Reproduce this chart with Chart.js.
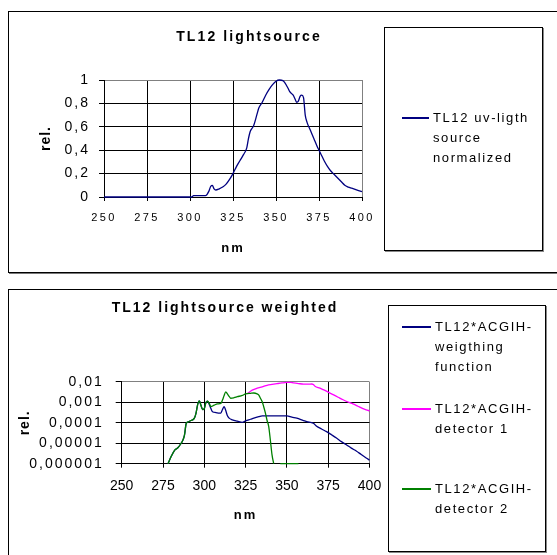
<!DOCTYPE html>
<html>
<head>
<meta charset="utf-8">
<title>TL12 lightsource</title>
<script src="https://cdn.jsdelivr.net/npm/chart.js@4/dist/chart.umd.min.js"></script>
<style>
  body { margin: 0; width: 557px; height: 555px; overflow: hidden; background: #fff;
         font-family: Arial, "Liberation Sans", sans-serif; position: relative; }
  .frame { position: absolute; border: 1px solid #000; box-shadow: 1px 1px 0 #777; }
  canvas { position: absolute; }
  .legend { position: absolute; border: 1px solid #000; box-shadow: 1px 1px 0 #888; background: #fff; }
  .entry { position: absolute; font-size: 13px; letter-spacing: 1.6px; line-height: 20px; color: #000; }
  .mark { position: absolute; display: block; }
</style>
</head>
<body>
<div class="frame" style="left:8px;top:11px;width:560px;height:260px"></div>
<div class="frame" style="left:8px;top:289px;width:560px;height:300px"></div>
<canvas id="srcChart" width="480" height="259" style="left:9px;top:12px"></canvas>
<canvas id="weightChart" width="432" height="265" style="left:9px;top:290px"></canvas>
<div class="legend" id="srcLegend" style="left:384px;top:27px;width:157px;height:222px"></div>
<div class="legend" id="weightLegend" style="left:388px;top:305px;width:156px;height:245px"></div>

<script>
// wavelength axis and value axes
const nmTicks = [250, 275, 300, 325, 350, 375, 400];
const relTicks = [0, 0.2, 0.4, 0.6, 0.8, 1];
const logTicks = [0.000001, 0.00001, 0.0001, 0.001, 0.01];

// TL12 uv source, normalized to its peak
const srcLabel = 'TL12 uv-ligth source normalized';
const srcNm  = [250, 300, 301, 302, 309, 311, 312, 313, 314, 315, 317, 319, 321, 323, 325, 327, 329, 331, 333,
                334, 335, 337, 339, 340, 342, 344, 346, 348, 350, 352, 354, 355, 357, 358, 360, 361, 362, 363,
                364, 365, 366, 367, 368, 370, 372, 374, 375, 376, 378, 380, 382, 384, 386, 388, 390, 392, 394,
                396, 398, 400];
const srcRel = [0, 0, 0, 0.011, 0.011, 0.05, 0.09, 0.1, 0.07, 0.06, 0.07, 0.085, 0.11, 0.15, 0.2, 0.26, 0.31, 0.36, 0.42,
                0.5, 0.56, 0.61, 0.71, 0.76, 0.81, 0.87, 0.92, 0.96, 0.99, 1.0, 0.995, 0.98, 0.93, 0.9, 0.87, 0.84, 0.81, 0.82,
                0.86, 0.87, 0.85, 0.7, 0.64, 0.57, 0.5, 0.43, 0.4, 0.37, 0.31, 0.26, 0.22, 0.19, 0.16, 0.13, 0.1, 0.085, 0.075,
                0.065, 0.055, 0.045];

// TL12 * ACGIH weighting function
const wfLabel = 'TL12*ACGIH-weigthing function';
const wfNm  = [278, 280, 282, 284, 286, 287, 288, 289, 290, 292, 294, 295, 296, 297, 298, 299, 300, 301, 302, 303,
               304, 305, 307, 309, 310, 311, 312, 313, 314, 315, 317, 320, 323, 325, 328, 330, 333, 335, 342, 350,
               353, 356, 360, 362, 366, 368, 371, 374, 377, 380, 383, 386, 389, 392, 395, 398, 400];
const wfVal = [1e-6, 2.3e-6, 4.5e-6, 6e-6, 1e-5, 1.4e-5, 2.5e-5, 9e-5, 1.1e-4, 1.3e-4, 1.7e-4, 3e-4, 8e-4, 1.2e-3,
               7e-4, 4.5e-4, 5e-4, 1e-3, 1.15e-3, 8e-4, 5e-4, 3.5e-4, 3.2e-4, 3e-4, 3e-4, 4.5e-4, 6.2e-4, 4e-4, 2.2e-4,
               1.7e-4, 1.4e-4, 1.2e-4, 1.05e-4, 1.25e-4, 1.5e-4, 1.7e-4, 2e-4, 2.2e-4, 2.2e-4, 2.2e-4, 1.9e-4, 1.7e-4,
               1.3e-4, 1.15e-4, 9.5e-5, 6.8e-5, 5e-5, 3.7e-5, 2.6e-5, 1.8e-5, 1.2e-5, 8.5e-6, 5.8e-6, 4.2e-6, 2.8e-6,
               1.9e-6, 1.5e-6];

// TL12 * ACGIH detector 1
const d1Label = 'TL12*ACGIH-detector 1';
const d1Nm  = [326, 329, 332, 335, 338, 341, 344, 347, 350, 352, 354, 357, 360, 363, 365, 366, 367, 370, 372, 375,
               378, 381, 384, 387, 390, 393, 396, 398, 400];
const d1Val = [2.7e-3, 4e-3, 5e-3, 5.8e-3, 6.9e-3, 7.6e-3, 8.3e-3, 9e-3, 9.5e-3, 9.5e-3, 9e-3, 8.4e-3, 7.9e-3, 7.9e-3,
               8e-3, 7.5e-3, 6.2e-3, 5e-3, 4.2e-3, 3.2e-3, 2.4e-3, 1.8e-3, 1.35e-3, 1.05e-3, 8.5e-4, 6.5e-4, 5e-4,
               4.3e-4, 3.9e-4];

// TL12 * ACGIH detector 2
const d2Label = 'TL12*ACGIH-detector 2';
const d2Nm  = [278, 280, 282, 284, 286, 287, 288, 289, 290, 292, 294, 295, 296, 297, 298, 299, 300, 301, 302, 303,
               304, 306, 308, 310, 311, 312, 313, 314, 315, 316, 318, 320, 323, 325, 328, 330, 332, 333, 334, 335,
               336, 337, 338, 339, 340, 341, 342, 344, 346, 357];
const d2Val = [1e-6, 2.3e-6, 4.5e-6, 6e-6, 1e-5, 1.4e-5, 2.5e-5, 9e-5, 1.1e-4, 1.3e-4, 1.7e-4, 3e-4, 8e-4, 1.2e-3,
               7e-4, 4.5e-4, 5e-4, 1e-3, 1.15e-3, 9e-4, 6.2e-4, 7.4e-4, 8.5e-4, 9e-4, 1.3e-3, 2.2e-3, 3.3e-3, 2.6e-3,
               2e-3, 1.6e-3, 1.7e-3, 1.9e-3, 2.2e-3, 2.6e-3, 2.8e-3, 2.9e-3, 2.6e-3, 2.3e-3, 1.6e-3, 1.1e-3, 6e-4, 3e-4,
               1.3e-4, 6.6e-5, 1.4e-5, 2.7e-6, 1e-6, null, 1e-6, 1e-6];

const NAVY = '#000080', MAGENTA = '#FF00FF', GREEN = '#008000';

const FONT = 'Arial, "Liberation Sans", sans-serif';
Chart.defaults.font.family = FONT;
Chart.defaults.color = '#000';

const pts = (xs, ys) => xs.map((x, i) => ({ x, y: ys[i] }));
const comma = v => String(v).replace('.', ',');

// canvas letterSpacing for selected scale labels / titles
function spacing(cfg) {
  const wrap = (obj, fn, sp) => {
    if (!obj || obj['_sp_' + fn]) return;
    const orig = obj[fn];
    obj[fn] = function (...a) {
      this.ctx.save();
      this.ctx.letterSpacing = sp;
      orig.apply(this, a);
      this.ctx.restore();
    };
    obj['_sp_' + fn] = true;
  };
  return {
    id: 'spacing',
    afterLayout(chart) {
      for (const id in cfg.ticks || {}) wrap(chart.scales[id], 'drawLabels', cfg.ticks[id]);
      for (const id in cfg.titles || {}) wrap(chart.scales[id], 'drawTitle', cfg.titles[id]);
      if (cfg.title) wrap(chart.titleBlock, 'draw', cfg.title);
    }
  };
}

const edgeGrid = edge => ({
  color: c => (c.tick && c.tick.value === edge ? '#808080' : '#000'),
  tickColor: '#000',
  lineWidth: 1
});

// empty right-hand axis: keeps room for the legend while the title stays centred on the canvas
const spacer = w => ({
  position: 'right', display: true,
  grid: { display: false }, border: { display: false }, ticks: { display: false },
  afterFit: s => { s.width = w; }
});

const line = (label, xs, ys, color, order) => ({
  label, data: pts(xs, ys), borderColor: color, backgroundColor: color,
  borderWidth: 1.3, pointRadius: 0, cubicInterpolationMode: 'monotone', spanGaps: false,
  clip: 3, order
});

function legend(el, items, tops, lineX, textX) {
  items.forEach(([label, color], i) => {
    const d = document.createElement('div');
    d.className = 'entry';
    d.style.top = tops[i] + 'px';
    d.style.left = textX + 'px';
    d.style.width = (el.clientWidth - textX - 3) + 'px';
    d.textContent = label;
    const mark = document.createElement('span');
    mark.className = 'mark';
    mark.style.left = (lineX[0] - textX) + 'px';
    mark.style.top = '9px';
    mark.style.width = (lineX[1] - lineX[0]) + 'px';
    mark.style.height = '2px';
    mark.style.backgroundColor = color;
    d.appendChild(mark);
    el.appendChild(d);
  });
}

// ---- TL12 lightsource ----
new Chart(document.getElementById('srcChart'), {
  type: 'line',
  data: { datasets: [line(srcLabel, srcNm, srcRel, NAVY, 0)] },
  options: {
    responsive: false, animation: false, events: [],
    layout: { padding: 0 },
    plugins: {
      legend: { display: false },
      tooltip: { enabled: false },
      title: { display: true, text: 'TL12 lightsource', color: '#000',
               font: { size: 14, weight: 'bold' }, padding: { top: 17, bottom: 34.2 } }
    },
    scales: {
      x: {
        type: 'linear', min: 250, max: 400,
        afterBuildTicks: s => { s.ticks = nmTicks.map(v => ({ value: v })); },
        afterFit: s => { s.height = 74; },
        grid: { ...edgeGrid(400), tickLength: 4 },
        border: { color: '#000', width: 1 },
        ticks: { font: { size: 11 }, padding: 10, maxRotation: 0, autoSkip: false, callback: v => String(v) },
        title: { display: true, text: 'nm', font: { size: 13, weight: 'bold' }, padding: { top: 0, bottom: 14.5 } }
      },
      y: {
        min: 0, max: 1,
        afterBuildTicks: s => { s.ticks = relTicks.map(v => ({ value: v })); },
        afterFit: s => { s.width = 95; },
        grid: { ...edgeGrid(1), tickLength: 5 },
        border: { color: '#000', width: 1 },
        ticks: { font: { size: 14 }, padding: 9, callback: v => comma(v) },
        title: { display: true, text: 'rel.', font: { size: 14, weight: 'bold' }, padding: { top: 28.6, bottom: 0 } }
      },
      room: spacer(127)
    }
  },
  plugins: [spacing({ ticks: { x: '2.3px', y: '2px' }, titles: { x: '2px', y: '1px' }, title: '2.1px' })]
});
legend(document.getElementById('srcLegend'), [[srcLabel, NAVY]], [80], [17, 44], 48);

// ---- TL12 lightsource weighted ----
new Chart(document.getElementById('weightChart'), {
  type: 'line',
  data: {
    datasets: [
      line(wfLabel, wfNm, wfVal, NAVY, 1),
      line(d1Label, d1Nm, d1Val, MAGENTA, 2),
      line(d2Label, d2Nm, d2Val, GREEN, 0)
    ]
  },
  options: {
    responsive: false, animation: false, events: [],
    layout: { padding: 0 },
    plugins: {
      legend: { display: false },
      tooltip: { enabled: false },
      title: { display: true, text: 'TL12 lightsource weighted', color: '#000',
               font: { size: 14, weight: 'bold' }, padding: { top: 9.6, bottom: 65.6 } }
    },
    scales: {
      x: {
        type: 'linear', min: 250, max: 400,
        afterBuildTicks: s => { s.ticks = nmTicks.map(v => ({ value: v })); },
        afterFit: s => { s.height = 91.3; },
        grid: { ...edgeGrid(400), tickLength: 4 },
        border: { color: '#000', width: 1 },
        ticks: { font: { size: 14 }, padding: 10, maxRotation: 0, autoSkip: false, callback: v => String(v) },
        title: { display: true, text: 'nm', font: { size: 13, weight: 'bold' }, padding: { top: 0, bottom: 32 } }
      },
      y: {
        type: 'logarithmic', min: 0.000001, max: 0.01,
        afterBuildTicks: s => { s.ticks = logTicks.map(v => ({ value: v })); },
        afterFit: s => { s.width = 112.7; },
        grid: { ...edgeGrid(0.01), tickLength: 6 },
        border: { color: '#000', width: 1 },
        ticks: { font: { size: 14 }, padding: 12, callback: v => comma(v) },
        title: { display: true, text: 'rel.', font: { size: 14, weight: 'bold' }, padding: { top: 7.6, bottom: 0 } }
      },
      room: spacer(71.5)
    }
  },
  plugins: [spacing({ ticks: { y: '2px' }, titles: { x: '2px', y: '1px' }, title: '2px' })]
});
legend(document.getElementById('weightLegend'),
       [[wfLabel, NAVY], [d1Label, MAGENTA], [d2Label, GREEN]], [11, 93, 173], [13, 42], 46);
</script>
</body>
</html>
